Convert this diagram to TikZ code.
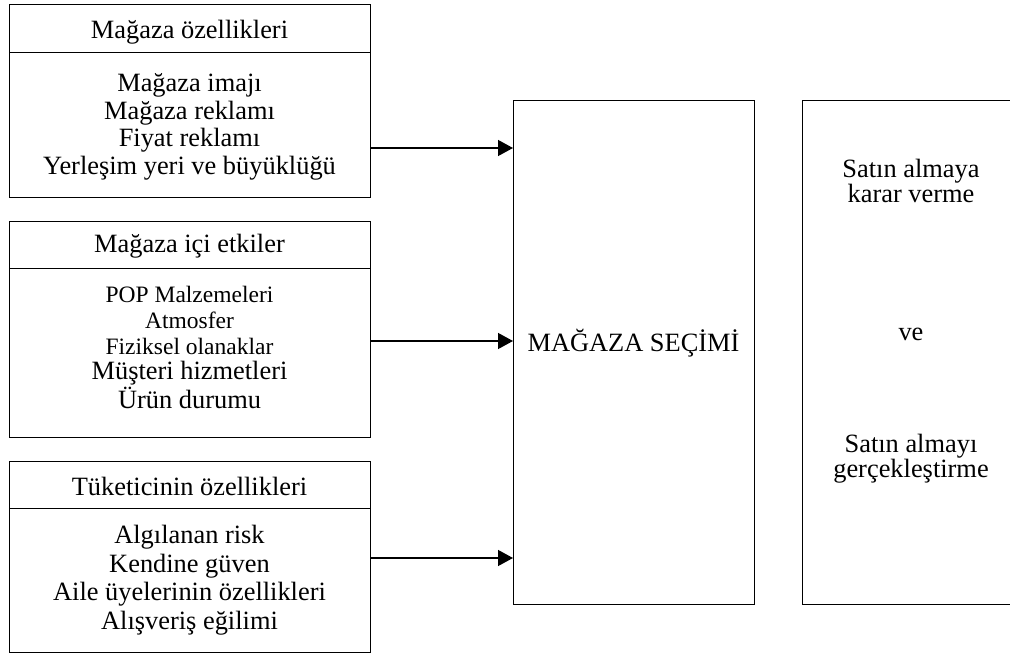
\documentclass[tikz,border=0pt]{standalone}
\usepackage{fontspec}
\setmainfont{Liberation Serif}
\usetikzlibrary{arrows.meta}

\begin{document}
\begin{tikzpicture}[x=1pt,y=-1pt,
  box/.style={draw, line width=1.3pt, rectangle, inner sep=0pt, anchor=north west},
  txt/.style={align=center, inner sep=0pt, font=\fontsize{26.4}{27.5}\selectfont},
  txtwide/.style={align=center, inner sep=0pt, font=\fontsize{26.4}{28.5}\selectfont},
  txttight/.style={align=center, inner sep=0pt, font=\fontsize{26.4}{23}\selectfont},
  small/.style={align=center, inner sep=0pt, font=\fontsize{23.5}{26}\selectfont},
  arr/.style={line width=1.3pt, -{Triangle[length=15pt,width=16pt]}}
]
\clip (0,0) rectangle (1010,655);

% left column: three groups of factors, each with a heading row
\node[box, minimum width=361pt, minimum height=48pt]  (h1) at (9,4) {};
\node[box, minimum width=361pt, minimum height=145pt] (b1) at (9,52) {};
\node[box, minimum width=361pt, minimum height=47pt]  (h2) at (9,221) {};
\node[box, minimum width=361pt, minimum height=169pt] (b2) at (9,268) {};
\node[box, minimum width=361pt, minimum height=47pt]  (h3) at (9,461) {};
\node[box, minimum width=361pt, minimum height=144pt] (b3) at (9,508) {};

\node[txt] (t1) at (189.5,32) {Mağaza özellikleri};
\node[txt] (l1) at (189.5,127) {Mağaza imajı\\Mağaza reklamı\\Fiyat reklamı\\Yerleşim yeri ve büyüklüğü};

\node[txt] (t2) at (189.5,246.5) {Mağaza içi etkiler};
\node[small] (l2a) at (189.5,320) {POP Malzemeleri\\Atmosfer\\Fiziksel olanaklar};
\node[txtwide] (l2b) at (189.5,385) {Müşteri hizmetleri\\Ürün durumu};

\node[txt] (t3) at (189.5,486.5) {Tüketicinin özellikleri};
\node[txtwide] (l3) at (189.5,580) {Algılanan risk\\Kendine güven\\Aile üyelerinin özellikleri\\Alışveriş eğilimi};

% store choice
\node[box, minimum width=241pt, minimum height=504pt] (mid) at (513,100) {};
\node[txt] (ms) at (633.5,343) {MAĞAZA SEÇİMİ};

% purchase decision (runs past the right edge)
\node[box, minimum width=260pt, minimum height=504pt] (res) at (802,100) {};
\node[txttight] (r1) at (911,181) {Satın almaya\\karar verme};
\node[txt] (r2) at (911,334) {ve};
\node[txttight] (r3) at (911,459) {Satın almayı\\gerçekleştirme};

% influences
\draw[arr] (b1.east |- 0,148) -- (mid.west |- 0,148);
\draw[arr] (b2.east |- 0,341) -- (mid.west |- 0,341);
\draw[arr] (b3.east |- 0,558) -- (mid.west |- 0,558);
\end{tikzpicture}
\end{document}
